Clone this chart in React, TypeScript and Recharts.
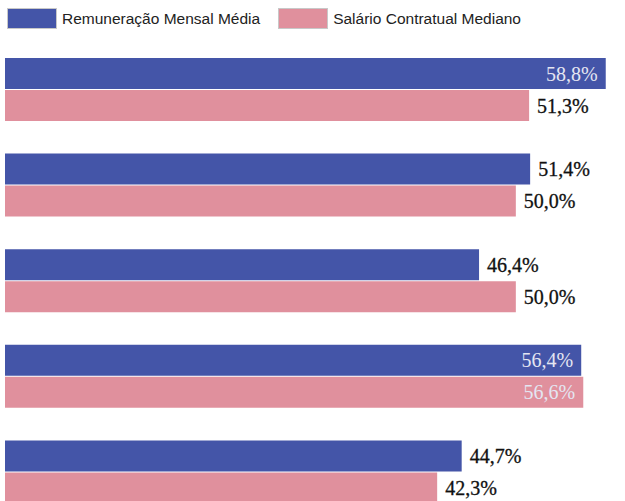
import { BarChart, Bar, XAxis, YAxis, LabelList } from 'recharts';

const categories = ['Grupo 1', 'Grupo 2', 'Grupo 3', 'Grupo 4', 'Grupo 5'];
const remuneracaoMedia = [58.8, 51.4, 46.4, 56.4, 44.7];
const salarioMediano = [51.3, 50.0, 50.0, 56.6, 42.3];

const SERIES = [
  { key: 'remuneracao', name: 'Remuneração Mensal Média', color: '#4455A8' },
  { key: 'salario', name: 'Salário Contratual Mediano', color: '#E0909D' },
];

const data = categories.map((c, i) => ({
  category: c,
  remuneracao: remuneracaoMedia[i],
  salario: salarioMediano[i],
}));

function formatPct(v: number): string {
  return v.toFixed(1).replace('.', ',') + '%';
}

// labels go inside the bar when it runs near the right edge
function BarLabel(props: any) {
  const { x, y, width, height, value } = props;
  const inside = value > 55;
  const cy = y + height / 2;
  return (
    <text
      x={inside ? x + width - 8 : x + width + 8}
      y={cy}
      dy="0.35em"
      textAnchor={inside ? 'end' : 'start'}
      fill={inside ? '#E4E6F2' : '#111'}
      stroke={inside ? 'none' : '#111'}
      strokeWidth={0.3}
      fontFamily="'Liberation Serif', serif"
      fontSize={20}
    >
      {formatPct(value)}
    </text>
  );
}

function TopLegend() {
  return (
    <div
      style={{
        position: 'absolute',
        top: 8,
        left: 7,
        display: 'flex',
        alignItems: 'center',
        fontFamily: "'Liberation Sans', Arial, sans-serif",
        fontSize: 15.5,
        color: '#222',
      }}
    >
      {SERIES.map((s, i) => (
        <div key={s.key} style={{ display: 'flex', alignItems: 'center', marginRight: i === 0 ? 18 : 0 }}>
          <div
            style={{
              width: 50,
              height: 21,
              backgroundColor: s.color,
              boxSizing: 'border-box',
              border: '1px solid #c8c8c8',
              marginRight: 5,
            }}
          />
          <span>{s.name}</span>
        </div>
      ))}
    </div>
  );
}

export default function App() {
  return (
    <div
      style={{
        position: 'fixed',
        top: 0,
        left: 0,
        width: 625,
        height: 501,
        overflow: 'hidden',
        background: '#fff',
      }}
    >
      <TopLegend />
      <BarChart
        width={625}
        height={520}
        data={data}
        layout="vertical"
        margin={{ top: 42, right: 7, bottom: 0, left: 5 }}
        barSize={31}
        barGap={1}
      >
        <XAxis type="number" domain={[0, 60]} hide />
        <YAxis type="category" dataKey="category" hide />
        {SERIES.map((s) => (
          <Bar key={s.key} dataKey={s.key} name={s.name} fill={s.color} isAnimationActive={false}>
            <LabelList dataKey={s.key} content={<BarLabel />} />
          </Bar>
        ))}
      </BarChart>
    </div>
  );
}
